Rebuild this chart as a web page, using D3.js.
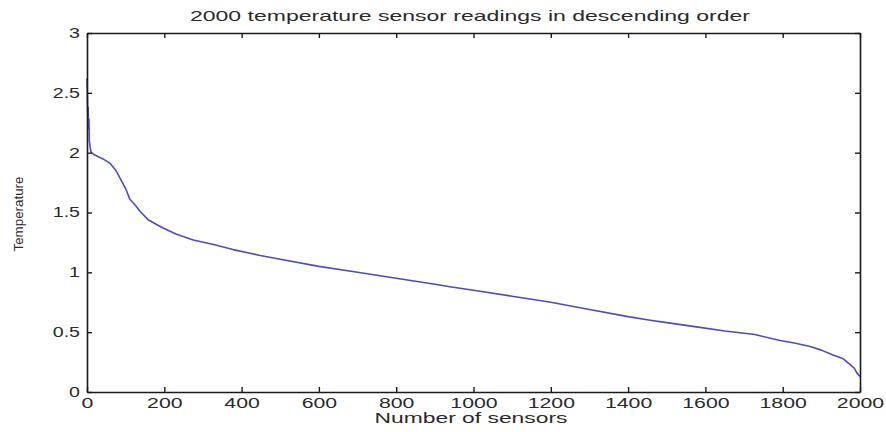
<!DOCTYPE html>
<html>
<head>
<meta charset="utf-8">
<script src="https://cdn.jsdelivr.net/npm/d3@7"></script>
<style>
  html, body { margin: 0; padding: 0; background: #fff; }
  svg { display: block; }
  text { font-family: "Liberation Sans", Arial, sans-serif; fill: #2a2a2a; }
</style>
</head>
<body>
<svg id="chart" width="886" height="432"></svg>
<script>
// ---- data ----
const sensorIndex = [0,1,2,3,4,5,6,8,10,12,20,40,60,75,90,100,111,125,137,158,180,197,230,275,330,378,422,448,500,600,700,800,900,939,1000,1100,1200,1300,1400,1457,1500,1586,1650,1728,1793,1830,1871,1900,1930,1955,1974,1985,1992,2000];
const temperature = [2.62,2.45,2.30,2.38,2.20,2.28,2.10,2.05,2.01,2.00,1.98,1.95,1.91,1.85,1.76,1.70,1.61,1.56,1.51,1.44,1.40,1.37,1.32,1.27,1.23,1.19,1.16,1.14,1.11,1.05,1.00,0.95,0.90,0.88,0.85,0.80,0.75,0.69,0.63,0.60,0.58,0.54,0.51,0.48,0.43,0.41,0.38,0.35,0.31,0.28,0.23,0.20,0.16,0.13];
const xTicks = [0,200,400,600,800,1000,1200,1400,1600,1800,2000];
const yTicks = [0,0.5,1,1.5,2,2.5,3];
const yTickLabels = ["0","0.5","1","1.5","2","2.5","3"];
const titleText = "2000 temperature sensor readings in descending order";
const xLabel = "Number of sensors";
const yLabel = "Temperature";

// ---- layout ----
const mLeft = 87, mRight = 860, mTop = 33, mBottom = 392;
const svg = d3.select("#chart");

const x = d3.scaleLinear().domain([0, 2000]).range([mLeft, mRight]);
const y = d3.scaleLinear().domain([0, 3]).range([mBottom, mTop]);

const stretch = (sel, f) => sel.each(function() {
  const w = this.getComputedTextLength();
  d3.select(this).attr("textLength", w * f).attr("lengthAdjust", "spacingAndGlyphs");
});

// curve
const pts = sensorIndex.map((d, i) => [d, temperature[i]]);
svg.append("path")
  .datum(pts)
  .attr("fill", "none")
  .attr("stroke", "#4b4bc8")
  .attr("stroke-width", 1.6)
  .attr("stroke-linejoin", "round")
  .attr("d", d3.line().x(d => x(d[0])).y(d => y(d[1])));

// axes (MATLAB-style inward ticks on all sides)
const tickLen = 5;
const gB = svg.append("g").attr("transform", `translate(0,${mBottom})`)
  .call(d3.axisBottom(x).tickValues(xTicks).tickFormat(d3.format("d")).tickSizeInner(-tickLen).tickSizeOuter(0).tickPadding(6));
const gT = svg.append("g").attr("transform", `translate(0,${mTop})`)
  .call(d3.axisTop(x).tickValues(xTicks).tickFormat("").tickSizeInner(-tickLen).tickSizeOuter(0));
const gL = svg.append("g").attr("transform", `translate(${mLeft},0)`)
  .call(d3.axisLeft(y).tickValues(yTicks).tickFormat((d, i) => yTickLabels[i]).tickSizeInner(-tickLen).tickSizeOuter(0).tickPadding(7));
const gR = svg.append("g").attr("transform", `translate(${mRight},0)`)
  .call(d3.axisRight(y).tickValues(yTicks).tickFormat("").tickSizeInner(-tickLen).tickSizeOuter(0));

[gB, gT, gL, gR].forEach(g => {
  g.select(".domain").attr("stroke", "#1a1a1a").attr("stroke-width", 1.6);
  g.selectAll(".tick line").attr("stroke", "#1a1a1a").attr("stroke-width", 1.4);
  g.selectAll("text").style("font-family", "'Liberation Sans', Arial, sans-serif").attr("fill", "#2a2a2a");
});
gB.selectAll(".tick text").attr("font-size", 14).call(stretch, 1.52);
gL.selectAll(".tick text").attr("font-size", 14).call(stretch, 1.4);

// title
svg.append("text")
  .attr("x", 470).attr("y", 21)
  .attr("text-anchor", "middle")
  .attr("font-size", 15)
  .text(titleText)
  .attr("textLength", 560).attr("lengthAdjust", "spacingAndGlyphs");

// x label
svg.append("text")
  .attr("x", 471).attr("y", 423)
  .attr("text-anchor", "middle")
  .attr("font-size", 14)
  .text(xLabel)
  .attr("textLength", 193).attr("lengthAdjust", "spacingAndGlyphs");

// y label
svg.append("text")
  .attr("transform", "translate(23,214) rotate(-90)")
  .attr("text-anchor", "middle")
  .attr("font-size", 13)
  .text(yLabel)
  .attr("textLength", 75).attr("lengthAdjust", "spacingAndGlyphs");
</script>
</body>
</html>
